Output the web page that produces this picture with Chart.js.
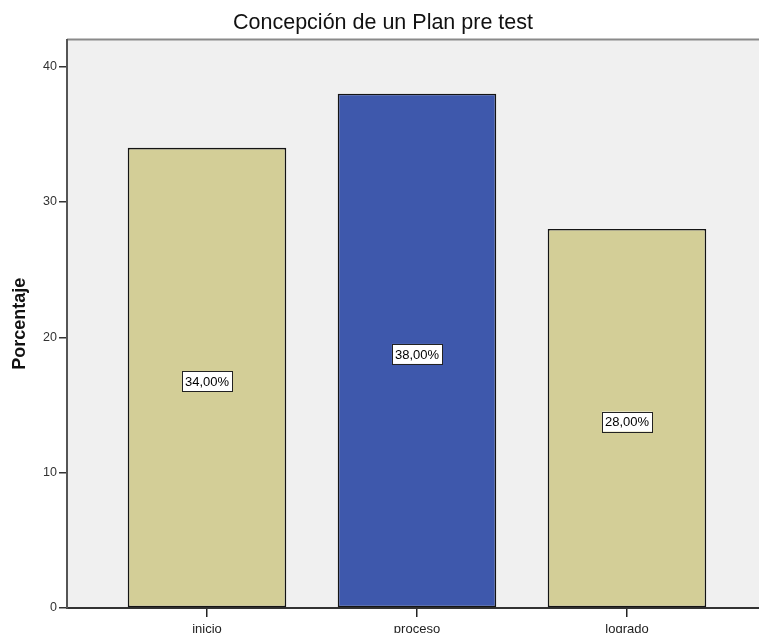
<!DOCTYPE html>
<html>
<head>
<meta charset="utf-8">
<script src="https://cdn.jsdelivr.net/npm/chart.js@4/dist/chart.umd.min.js"></script>
<style>
  html, body { margin: 0; padding: 0; background: #ffffff; overflow: hidden; }
  #wrap { width: 759px; height: 633px; overflow: hidden; position: relative; }
  canvas { display: block; }
</style>
</head>
<body>
<div id="wrap"><canvas id="c" width="766" height="650"></canvas></div>
<script>
// Concepción de un Plan – pre test: percentage per level
const categories = ['inicio', 'proceso', 'logrado'];
const percentages = [34, 38, 28];
const barColors = ['#d3ce97', '#3e58ac', '#d3ce97'];
const yTicks = [0, 10, 20, 30, 40];

const FONT = "'Liberation Sans', Arial, sans-serif";

// Grey plot background with a frame on the top and right
const plotFrame = {
  id: 'plotFrame',
  beforeDraw(chart) {
    const { ctx, chartArea: a } = chart;
    ctx.save();
    ctx.fillStyle = '#f0f0f0';
    ctx.fillRect(a.left, a.top, a.right - a.left, a.bottom - a.top);
    ctx.strokeStyle = '#8a8a8a';
    ctx.lineWidth = 2;
    ctx.beginPath();
    ctx.moveTo(a.left, a.top);
    ctx.lineTo(a.right, a.top);
    ctx.lineTo(a.right, a.bottom);
    ctx.stroke();
    ctx.restore();
  }
};

// Boxed percentage label in the middle of each bar
const valueBoxes = {
  id: 'valueBoxes',
  afterDatasetsDraw(chart) {
    const { ctx } = chart;
    const meta = chart.getDatasetMeta(0);
    ctx.save();
    ctx.font = '13px ' + FONT;
    ctx.textAlign = 'center';
    ctx.textBaseline = 'middle';
    meta.data.forEach((bar, i) => {
      const { x, y, base } = bar.getProps(['x', 'y', 'base'], true);
      const text = percentages[i].toFixed(2).replace('.', ',') + '%';
      const cy = (y + base) / 2 + 3.5;
      const w = ctx.measureText(text).width + 6;
      const h = 20;
      ctx.fillStyle = '#ffffff';
      ctx.fillRect(x - w / 2, cy - h / 2, w, h);
      ctx.strokeStyle = '#222222';
      ctx.lineWidth = 1;
      ctx.strokeRect(Math.round(x - w / 2) + 0.5, Math.round(cy - h / 2) + 0.5, Math.round(w), h);
      ctx.fillStyle = '#000000';
      ctx.fillText(text, x, cy + 1);
    });
    ctx.restore();
  }
};

new Chart(document.getElementById('c'), {
  type: 'bar',
  data: {
    datasets: [{
      data: categories.map((c, i) => ({ x: i, y: percentages[i] })),
      backgroundColor: barColors,
      borderColor: '#141414',
      borderWidth: 1.6,
      borderSkipped: false,
      barPercentage: 0.755,
      categoryPercentage: 1
    }]
  },
  options: {
    responsive: false,
    animation: false,
    events: [],
    layout: { padding: { left: 0, right: 0, top: 0, bottom: 0 } },
    plugins: {
      legend: { display: false },
      tooltip: { enabled: false },
      title: {
        display: true,
        text: 'Concepción de un Plan pre test',
        color: '#111111',
        font: { family: FONT, size: 21.5, weight: 'normal', lineHeight: 1.2 },
        padding: { top: 10, bottom: 3.7 }
      }
    },
    scales: {
      x: {
        type: 'linear',
        offset: false,
        min: -0.6667,
        max: 2.662,
        afterBuildTicks(scale) {
          scale.ticks = categories.map((c, i) => ({ value: i }));
        },
        afterFit(scale) { scale.height = 42; },
        grid: { offset: false, drawOnChartArea: false, drawTicks: true, tickLength: 9, color: '#222222', lineWidth: 1.5 },
        border: { display: true, color: '#333333', width: 2 },
        ticks: {
          autoSkip: false,
          maxRotation: 0,
          padding: 5,
          color: '#222222',
          font: { family: FONT, size: 13 },
          callback: (v) => categories[v]
        }
      },
      y: {
        min: 0,
        max: 42,
        afterBuildTicks(scale) {
          scale.ticks = yTicks.map(v => ({ value: v }));
        },
        afterFit(scale) { scale.width = 67; },
        grid: { drawOnChartArea: false, drawTicks: true, tickLength: 8, color: '#333333', lineWidth: 1.5 },
        border: { display: true, color: '#555555', width: 2 },
        ticks: {
          includeBounds: false,
          padding: 2,
          color: '#333333',
          font: { family: FONT, size: 12.5 }
        },
        title: {
          display: true,
          text: 'Porcentaje',
          color: '#111111',
          font: { family: FONT, size: 18, weight: 'bold' },
          padding: { top: 9, bottom: 0 }
        }
      }
    }
  },
  plugins: [plotFrame, valueBoxes]
});
</script>
</body>
</html>
